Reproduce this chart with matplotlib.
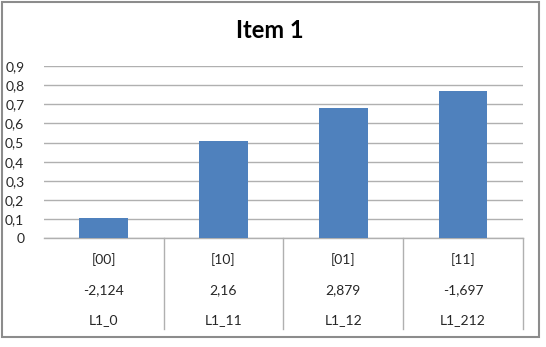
import matplotlib
matplotlib.use("Agg")
import matplotlib.pyplot as plt
from matplotlib.patches import Rectangle
from matplotlib.ticker import FuncFormatter
import matplotlib.transforms as mtransforms

plt.rcParams['font.family'] = ['Lato', 'DejaVu Sans']

title = "Item 1"
codes = ["[00]", "[10]", "[01]", "[11]"]
scores = ["-2,124", "2,16", "2,879", "-1,697"]
labels = ["L1_0", "L1_11", "L1_12", "L1_212"]
values = [0.104, 0.508, 0.68, 0.77]
yticks = [0, 0.1, 0.2, 0.3, 0.4, 0.5, 0.6, 0.7, 0.8, 0.9]

W, H = 546, 347
fig = plt.figure(figsize=(W / 100, H / 100), dpi=100)

def fx(px):
    return px / W

def fy(py):
    return (H - py) / H

ax = fig.add_axes([fx(43.8), fy(238.3), fx(523) - fx(43.8), fy(66) - fy(238.3)])

x = list(range(len(values)))
ax.bar(x, values, width=0.406, color="#4F81BD", zorder=3)
ax.set_xlim(-0.5, len(values) - 0.5)
ax.set_ylim(0, 0.9)
ax.set_yticks(yticks)
ax.yaxis.set_major_formatter(FuncFormatter(lambda v, p: ("%g" % round(v, 1)).replace(".", ",")))
ax.tick_params(axis="y", length=0, pad=14, labelsize=10, labelcolor="#262626")
ax.tick_params(axis="x", length=0, labelbottom=False)
ax.set_xticks([])
ax.grid(axis="y", color="#B0B0B0", linewidth=1.0, zorder=0)
for s in ["top", "left", "right"]:
    ax.spines[s].set_visible(False)
ax.spines["bottom"].set_color("#B0B0B0")
ax.spines["bottom"].set_linewidth(1.0)

trans = mtransforms.blended_transform_factory(ax.transData, fig.transFigure)
rows = [(codes, 260), (scores, 290), (labels, 320)]
for texts, py in rows:
    for i, t in enumerate(texts):
        ax.text(i, fy(py), t, transform=trans, ha="center", va="center",
                fontsize=10, color="#262626", clip_on=False)

# category dividers
for b in [0.5, 1.5, 2.5, 3.5]:
    ax.plot([b, b], [fy(238.3), fy(329)], transform=trans, color="#B0B0B0",
            linewidth=1.0, clip_on=False)

fig.text(fx(270), fy(30), title, ha="center", va="center", fontsize=17,
         fontweight="bold", color="#000000")

fig.patches.append(Rectangle((fx(2), fy(337)), fx(539) - fx(2), fy(2) - fy(337),
                             transform=fig.transFigure, fill=False,
                             edgecolor="#8C8C8C", linewidth=1.5))

fig.savefig("out.png", dpi=100)
